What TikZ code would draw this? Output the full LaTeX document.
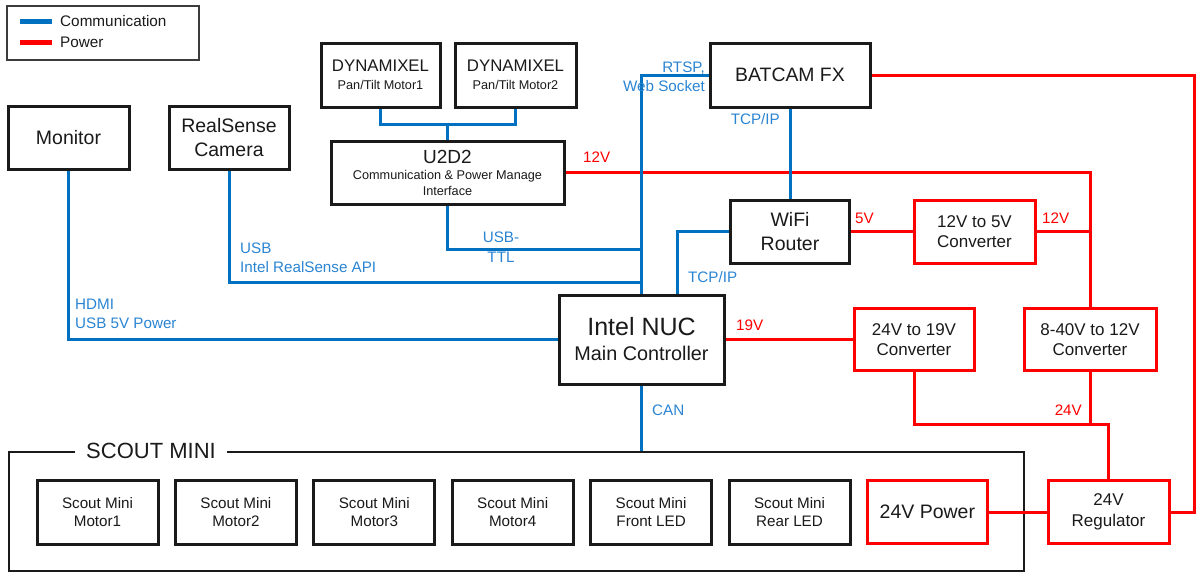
\documentclass[tikz,border=0pt]{standalone}
\usepackage{fontspec}
\setmainfont{Liberation Sans}
\usepackage{xcolor}
\usetikzlibrary{positioning}
\definecolor{Ink}{HTML}{1A1A1A}
\definecolor{CommBlue}{HTML}{0070C0}
\definecolor{CommText}{HTML}{2A84D2}
\definecolor{PowerRed}{HTML}{FF0000}
\newcommand{\fsz}[2]{\fontsize{#1}{#2}\selectfont}
\tikzset{
  box/.style={draw=Ink,line width=3pt,fill=white,align=center,text=Ink,inner sep=0pt,minimum width=121pt,minimum height=63pt,font=\fsz{19.5}{24}},
  pbox/.style={box,draw=PowerRed,font=\fsz{17}{20.5}},
  motor/.style={box,minimum height=64pt,font=\fsz{15.2}{18.5}},
  comm/.style={draw=CommBlue,line width=3pt},
  pwr/.style={draw=PowerRed,line width=3pt},
  clabel/.style={text=CommText,inner sep=0pt,font=\fsz{15.2}{19}},
  plabel/.style={text=PowerRed,inner sep=0pt,font=\fsz{15.2}{19}}
}
\begin{document}
\begin{tikzpicture}[x=1pt,y=-1pt,node distance=14.4pt]
  \useasboundingbox (0,0) rectangle (1196,574);
  \node[draw=Ink!85,line width=1.5pt,minimum width=192pt,minimum height=54pt,inner sep=0pt] (legend) at (103,33) {};
  \node[anchor=base west,inner sep=0pt,text=Ink,font=\fsz{15.3}{18}] (lgc) at (60,26.5) {Communication};
  \node[anchor=base west,inner sep=0pt,text=Ink,font=\fsz{15.3}{18}] (lgp) at (60,47.5) {Power};
  \draw[comm,line width=5pt] ([xshift=-40pt]lgc.west) -- ([xshift=-8pt]lgc.west);
  \draw[pwr,line width=5pt] ([xshift=-40pt]lgp.west) -- ([xshift=-8pt]lgp.west);
  \node[draw=Ink,line width=2.5pt,minimum width=1015pt,minimum height=119pt,inner sep=0pt] (scout) at (516.5,511.5) {};
  \node[fill=white,text=Ink,font=\fsz{22}{26},inner xsep=11pt,inner ysep=4pt] (scoutname) at (151,451) {SCOUT MINI};
  \node[motor] (m1) at (97.5,512) {Scout Mini\\Motor1};
  \node[motor,right=of m1] (m2) {Scout Mini\\Motor2};
  \node[motor,right=of m2] (m3) {Scout Mini\\Motor3};
  \node[motor,right=of m3] (m4) {Scout Mini\\Motor4};
  \node[motor,right=of m4] (m5) {Scout Mini\\Front LED};
  \node[motor,right=of m5] (m6) {Scout Mini\\Rear LED};
  \node[box,draw=PowerRed,minimum width=120pt,right=of m6] (pw) {24V Power};
  \node[box] (mon) at (68.5,138) {Monitor};
  \node[box,minimum width=120pt] (rs) at (229,138) {RealSense\\Camera};
  \node[box,minimum width=119pt,minimum height=64pt,font=\fsz{16.8}{18}] (dyn1) at (380.5,75) {DYNAMIXEL\\{\fsz{12.7}{15}Pan/Tilt Motor1}};
  \node[box,minimum height=64pt,font=\fsz{16.8}{18}] (dyn2) at (515.5,75) {DYNAMIXEL\\{\fsz{12.7}{15}Pan/Tilt Motor2}};
  \node[box,minimum width=233pt,font=\fsz{12.7}{16}] (u2d2) at (447.5,172.5) {{\fsz{19}{19}U2D2}\\Communication \& Power Manage\\Interface};
  \node[box,minimum width=160pt,minimum height=64pt,font=\fsz{19.4}{24}] (bat) at (790,75) {BATCAM FX};
  \node[box,minimum width=119pt] (wifi) at (790,231.5) {WiFi\\Router};
  \node[pbox] (c5) at (974.5,231.5) {12V to 5V\\Converter};
  \node[box,minimum width=165pt,minimum height=89pt,font=\fsz{19.8}{25}] (nuc) at (641.5,339.5) {{\fsz{25}{25}Intel NUC}\\Main Controller};
  \node[pbox,minimum width=120pt,minimum height=62pt] (c19) at (914,339.5) {24V to 19V\\Converter};
  \node[pbox,minimum width=132pt,minimum height=62pt] (c12) at (1090,339.5) {8-40V to 12V\\Converter};
  \node[pbox] (reg) at (1108.5,512) {24V\\Regulator};
  \coordinate (trs) at (641.5,282);
  \coordinate (tu) at (641.5,249);
  \coordinate (jdyn) at (447.5,124);
  \coordinate (twifi) at ([xshift=35.5pt]nuc.north);
  \coordinate (tcan) at (nuc.south |- scout.north);
  \coordinate (j12) at (1090,231.5);
  \coordinate (j24) at (1090,424);
  \coordinate (redge) at (1194,300);
  \draw[pwr] (u2d2.east) -| (c12.north);
  \draw[pwr] (bat.east) -| (redge) |- (reg.east);
  \draw[pwr] (wifi.east) -- (c5.west);
  \draw[pwr] (c5.east) -- (j12);
  \draw[pwr] (nuc.east) -- (c19.west);
  \draw[pwr] (c19.south) |- (j24);
  \draw[pwr] (c12.south) -- (j24) -| (reg.north);
  \draw[pwr] (pw.east) -- (reg.west);
  \draw[comm] (mon.south) |- (nuc.west);
  \draw[comm] (rs.south) |- (trs);
  \draw[comm] (u2d2.south) |- (tu);
  \draw[comm] (dyn1.south) |- (jdyn) -| (dyn2.south);
  \draw[comm] (jdyn) -- (u2d2.north);
  \draw[comm] (bat.west) -| (nuc.north);
  \draw[comm] (bat.south) -- (wifi.north);
  \draw[comm] (wifi.west) -| (twifi);
  \draw[comm] (nuc.south) -- (tcan);
  \node[clabel,anchor=west,align=left] (lhdmi) at (75,314) {HDMI\\USB 5V Power};
  \node[clabel,anchor=west,align=left] (lusb) at (240,257.5) {USB\\Intel RealSense API};
  \node[clabel,align=center,font=\fsz{15.2}{20}] (lttl) at (501,247) {USB-\\TTL};
  \node[clabel,anchor=east,align=right] (lrtsp) at (705,76.5) {RTSP,\\Web Socket};
  \node[clabel,anchor=base east] (ltcp1) at (780,124.5) {TCP/IP};
  \node[clabel,anchor=base west] (ltcp2) at (688,282.5) {TCP/IP};
  \node[clabel,anchor=base west] (lcan) at (652,415.5) {CAN};
  \node[plabel,anchor=base west] (l12a) at (583,162.5) {12V};
  \node[plabel,anchor=base west] (l5) at (855,223.5) {5V};
  \node[plabel,anchor=base west] (l12b) at (1042,223.5) {12V};
  \node[plabel,anchor=base west] (l19) at (736,330.5) {19V};
  \node[plabel,anchor=base east] (l24) at (1082,415.5) {24V};
\end{tikzpicture}
\end{document}
